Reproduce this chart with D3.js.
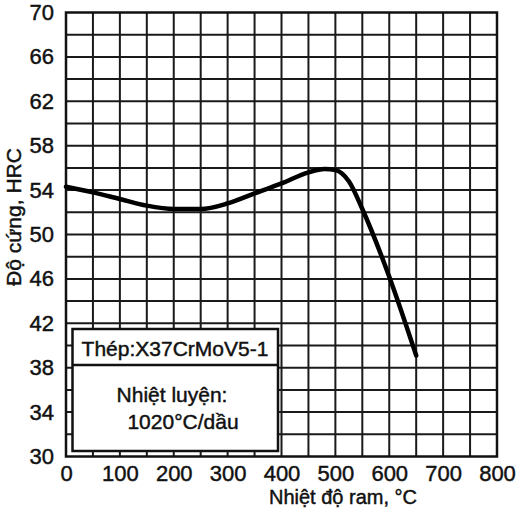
<!DOCTYPE html>
<html>
<head>
<meta charset="utf-8">
<script src="https://cdn.jsdelivr.net/npm/d3@7"></script>
<style>
  body { margin: 0; background: #fff; }
  svg text { font-family: "Liberation Sans", Arial, sans-serif; fill: #111; stroke: #111; stroke-width: 0.45px; }
</style>
</head>
<body>
<svg id="chart" width="519" height="519"></svg>
<script>
// tempering temperature (°C) vs hardness (HRC)
const temps = [0, 50, 100, 150, 200, 250, 300, 350, 400, 450, 480, 500, 525, 550, 600, 650];
const hardness = [54.3, 53.8, 53.2, 52.6, 52.3, 52.3, 52.8, 53.7, 54.6, 55.6, 55.9, 55.8, 54.8, 52.3, 46.2, 39.1];
const xTicks = [0, 100, 200, 300, 400, 500, 600, 700, 800];
const yTicks = [30, 34, 38, 42, 46, 50, 54, 58, 62, 66, 70];
const legendLines = ["Thép:X37CrMoV5-1", "Nhiệt luyện:", "1020°C/dầu"];

const margin = { top: 12.5, right: 22, bottom: 62.5, left: 66 };
const W = 519, H = 519;
const svg = d3.select('#chart');

const x = d3.scaleLinear().domain([0, 800]).range([margin.left, W - margin.right]);
const y = d3.scaleLinear().domain([30, 70]).range([H - margin.bottom, margin.top]);

// grid
const grid = svg.append('g').attr('stroke', '#1a1a1a').attr('stroke-width', 2);
grid.selectAll('line.v')
    .data(d3.range(50, 800, 50))
    .join('line')
    .attr('x1', d => x(d)).attr('x2', d => x(d))
    .attr('y1', y(30)).attr('y2', y(70));
grid.selectAll('line.h')
    .data(d3.range(32, 70, 2))
    .join('line')
    .attr('y1', d => y(d)).attr('y2', d => y(d))
    .attr('x1', x(0)).attr('x2', x(800));

// frame
svg.append('rect')
    .attr('x', x(0)).attr('y', y(70))
    .attr('width', x(800) - x(0)).attr('height', y(30) - y(70))
    .attr('fill', 'none').attr('stroke', '#111').attr('stroke-width', 2.5);

// axes (labels only)
const xAxis = svg.append('g')
    .attr('transform', `translate(0,${y(30)})`)
    .call(d3.axisBottom(x).tickValues(xTicks).tickSize(0).tickPadding(8.5).tickFormat(d3.format('d')));
xAxis.select('.domain').remove();
xAxis.selectAll('text').style('font-size', '22px').attr('dy', '0.72em');

const yAxis = svg.append('g')
    .attr('transform', `translate(${x(0)},0)`)
    .call(d3.axisLeft(y).tickValues(yTicks).tickSize(0).tickPadding(12));
yAxis.select('.domain').remove();
yAxis.selectAll('text').style('font-size', '22px');

// axis titles
svg.append('text')
    .attr('x', 343).attr('y', 504)
    .attr('text-anchor', 'middle')
    .style('font-size', '20px')
    .text('Nhiệt độ ram, °C');

svg.append('text')
    .attr('transform', 'translate(21,217) rotate(-90)')
    .attr('text-anchor', 'middle')
    .style('font-size', '21px')
    .text('Độ cứng, HRC');

// curve
const line = d3.line()
    .x((d, i) => x(temps[i]))
    .y(d => y(d))
    .curve(d3.curveMonotoneX);
svg.append('path')
    .datum(hardness)
    .attr('d', line)
    .attr('fill', 'none')
    .attr('stroke', '#000')
    .attr('stroke-width', 4.5)
    .attr('stroke-linecap', 'round');

// legend box
const box = svg.append('g');
box.append('rect')
    .attr('x', 72.5).attr('y', 329).attr('width', 205.5).attr('height', 122)
    .attr('fill', '#fff').attr('stroke', '#111').attr('stroke-width', 2.5);
box.append('line')
    .attr('x1', 72.5).attr('x2', 278).attr('y1', 365).attr('y2', 365)
    .attr('stroke', '#111').attr('stroke-width', 2.5);
box.append('text')
    .attr('x', 175).attr('y', 356)
    .attr('text-anchor', 'middle')
    .style('font-size', '21px')
    .text(legendLines[0]);
box.append('text')
    .attr('x', 172).attr('y', 402)
    .attr('text-anchor', 'middle')
    .style('font-size', '21px')
    .text(legendLines[1]);
box.append('text')
    .attr('x', 183).attr('y', 429)
    .attr('text-anchor', 'middle')
    .style('font-size', '21px')
    .text(legendLines[2]);
</script>
</body>
</html>
